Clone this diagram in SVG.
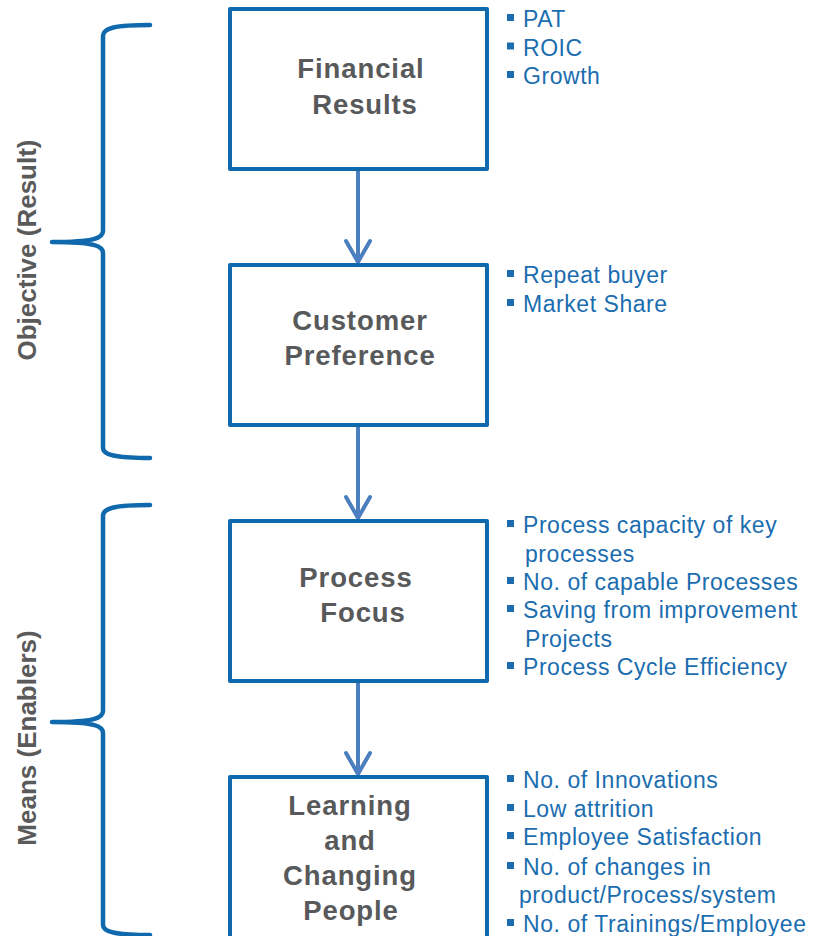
<svg xmlns="http://www.w3.org/2000/svg" width="816" height="936" viewBox="0 0 816 936">
<defs>
<style>
.box{fill:#fff;stroke:#0F69AC;stroke-width:4;stroke-linejoin:round}
.brace{fill:none;stroke:#0F69AC;stroke-width:4.5;stroke-linecap:round;stroke-linejoin:round}
.arrow{fill:none;stroke:#4C7FC0;stroke-width:4;stroke-linecap:round;stroke-linejoin:round}
.title{font-family:"Liberation Sans",Arial,sans-serif;font-weight:bold;font-size:27.5px;fill:#58595B;text-anchor:middle;letter-spacing:0.9px}
.side{font-family:"Liberation Sans",Arial,sans-serif;font-weight:bold;font-size:26px;fill:#5A5A5A;text-anchor:middle}
.item{font-family:"Liberation Sans",Arial,sans-serif;font-size:23px;fill:#1B6DAF;letter-spacing:0.55px}
.sq{fill:#1B6DAF}
</style>
</defs>
<rect width="816" height="936" fill="#fff"/>

<g id="braces">
<path class="brace" d="M150,25 C115,25 103,28 103,36 L103,231 C103,238 95,242 52,242 C95,242 103,246 103,253 L103,448 C103,455 115,458 150,458"/>
<path class="brace" d="M150,505 C115,505 103,508 103,516 L103,711 C103,718 95,722 52,722 C95,722 103,726 103,733 L103,925 C103,932 115,935 150,935"/>
<text class="side" transform="translate(36,250) rotate(-90)">Objective (Result)</text>
<text class="side" transform="translate(36,738) rotate(-90)">Means (Enablers)</text>
</g>

<g id="connectors">
<path class="arrow" d="M358,171 L358,262 M346,241 L358,262 L370,241"/>
<path class="arrow" d="M358,427 L358,518 M346,497 L358,518 L370,497"/>
<path class="arrow" d="M358,683 L358,774 M346,753 L358,774 L370,753"/>
</g>

<g id="financial-results">
<rect class="box" x="230" y="9" width="257" height="160"/>
<text class="title" x="361" y="78">Financial</text>
<text class="title" x="365" y="114">Results</text>
</g>

<g id="customer-preference">
<rect class="box" x="230" y="265" width="257" height="160"/>
<text class="title" x="360" y="330">Customer</text>
<text class="title" x="360" y="365">Preference</text>
</g>

<g id="process-focus">
<rect class="box" x="230" y="521" width="257" height="160"/>
<text class="title" x="356" y="587">Process</text>
<text class="title" x="363" y="622">Focus</text>
</g>

<g id="learning-people">
<rect class="box" x="230" y="777" width="257" height="170"/>
<text class="title" x="350" y="815">Learning</text>
<text class="title" x="350" y="850">and</text>
<text class="title" x="350" y="885">Changing</text>
<text class="title" x="351" y="920">People</text>
</g>

<g id="financial-measures">
<rect class="sq" x="507" y="14" width="7" height="7"/>
<text class="item" x="523" y="27">PAT</text>
<rect class="sq" x="507" y="42.5" width="7" height="7"/>
<text class="item" x="523" y="55.5">ROIC</text>
<rect class="sq" x="507" y="71" width="7" height="7"/>
<text class="item" x="523" y="84">Growth</text>
</g>

<g id="customer-measures">
<rect class="sq" x="507" y="270" width="7" height="7"/>
<text class="item" x="523" y="283">Repeat buyer</text>
<rect class="sq" x="507" y="299" width="7" height="7"/>
<text class="item" x="523" y="312">Market Share</text>
</g>

<g id="process-measures">
<rect class="sq" x="507" y="520" width="7" height="7"/>
<text class="item" x="523" y="533">Process capacity of key</text>
<text class="item" x="525" y="561.5">processes</text>
<rect class="sq" x="507" y="577" width="7" height="7"/>
<text class="item" x="523" y="590">No. of capable Processes</text>
<rect class="sq" x="507" y="605" width="7" height="7"/>
<text class="item" x="523" y="618">Saving from improvement</text>
<text class="item" x="525" y="647">Projects</text>
<rect class="sq" x="507" y="662" width="7" height="7"/>
<text class="item" x="523" y="675">Process Cycle Efficiency</text>
</g>

<g id="people-measures">
<rect class="sq" x="507" y="775" width="7" height="7"/>
<text class="item" x="523" y="788">No. of Innovations</text>
<rect class="sq" x="507" y="804" width="7" height="7"/>
<text class="item" x="523" y="817">Low attrition</text>
<rect class="sq" x="507" y="832" width="7" height="7"/>
<text class="item" x="523" y="845">Employee Satisfaction</text>
<rect class="sq" x="507" y="862" width="7" height="7"/>
<text class="item" x="523" y="875">No. of changes in</text>
<text class="item" x="519" y="903">product/Process/system</text>
<rect class="sq" x="507" y="919" width="7" height="7"/>
<text class="item" x="523" y="932">No. of Trainings/Employee</text>
</g>
</svg>
